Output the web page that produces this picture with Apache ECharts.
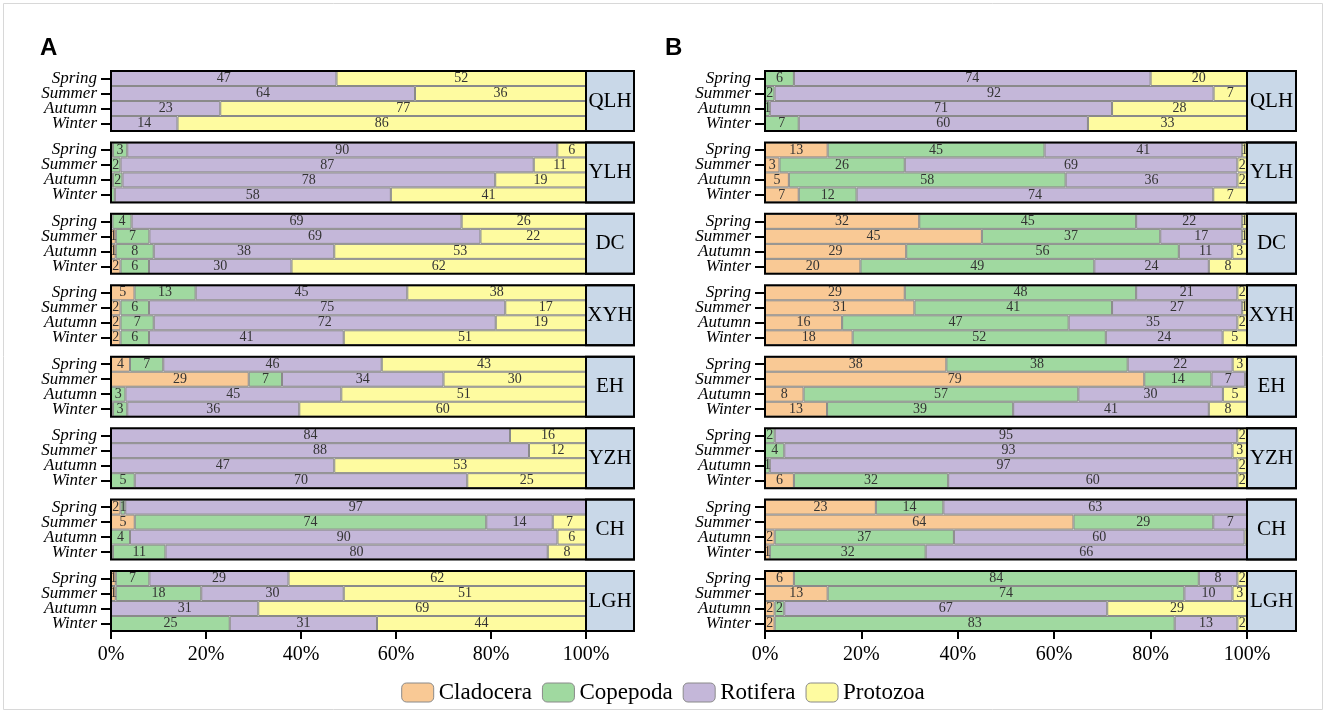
<!DOCTYPE html>
<html><head><meta charset="utf-8">
<script src="https://cdn.jsdelivr.net/npm/echarts@6/dist/echarts.min.js"></script>
<style>html,body{margin:0;padding:0;background:#fff}#c{width:1326px;height:713px}</style>
</head><body><div id="c"></div>
<script>
const seasons = ['Spring','Summer','Autumn','Winter'];
const taxa = ['Cladocera','Copepoda','Rotifera','Protozoa'];
const stations = ['QLH','YLH','DC','XYH','EH','YZH','CH','LGH'];
const xTickLabels = ['0%','20%','40%','60%','80%','100%'];
// each row: [Cladocera, Copepoda, Rotifera, Protozoa] for Spring, Summer, Autumn, Winter
const A_QLH = [[0,0,47,52],[0,0,64,36],[0,0,23,77],[0,0,14,86]];
const A_YLH = [[0.4,3,90,6],[0,2,87,11],[0.4,2,78,19],[0,0.8,58,41]];
const A_DC  = [[0.3,4,69,26],[1,7,69,22],[1,8,38,53],[2,6,30,62]];
const A_XYH = [[5,13,45,38],[2,6,75,17],[2,7,72,19],[2,6,41,51]];
const A_EH  = [[4,7,46,43],[29,7,34,30],[0,3,45,51],[0.4,3,36,60]];
const A_YZH = [[0,0,84,16],[0,0,88,12],[0,0,47,53],[0,5,70,25]];
const A_CH  = [[2,1,97,0],[5,74,14,7],[0,4,90,6],[0.4,11,80,8]];
const A_LGH = [[1,7,29,62],[1,18,30,51],[0,0,31,69],[0,25,31,44]];
const B_QLH = [[0,6,74,20],[0,2,92,7],[0,1,71,28],[0,7,60,33]];
const B_YLH = [[13,45,41,1],[3,26,69,2],[5,58,36,2],[7,12,74,7]];
const B_DC  = [[32,45,22,1],[45,37,17,1],[29,56,11,3],[20,49,24,8]];
const B_XYH = [[29,48,21,2],[31,41,27,1],[16,47,35,2],[18,52,24,5]];
const B_EH  = [[38,38,22,3],[79,14,7,0.4],[8,57,30,5],[13,39,41,8]];
const B_YZH = [[0,2,95,2],[0,4,93,3],[0,1,97,2],[6,32,60,2]];
const B_CH  = [[23,14,63,0],[64,29,7,0],[2,37,60,0.5],[1,32,66,0]];
const B_LGH = [[6,84,8,2],[13,74,10,3],[2,2,67,29],[2,83,13,2]];

const panels = [
  {letter:'A', rows:[A_QLH,A_YLH,A_DC,A_XYH,A_EH,A_YZH,A_CH,A_LGH], left:111, width:475, box:48, lx:40},
  {letter:'B', rows:[B_QLH,B_YLH,B_DC,B_XYH,B_EH,B_YZH,B_CH,B_LGH], left:765, width:482, box:49, lx:665}
];
const colors = ['#F9C995','#A0D9A0','#C4B7D9','#FEFBA0'];
const serif = '"Liberation Serif","Times New Roman",serif';
const top0 = 71, step = 71.43, gh = 60;

const grid=[], xAxis=[], yAxis=[], series=[], graphic=[];
let gi = 0;
panels.forEach(p => {
  graphic.push({type:'text', left:p.lx, top:36, z:100,
    style:{text:p.letter, font:'bold 24px "Liberation Sans", Arial, sans-serif', fill:'#000'}});
  p.rows.forEach((rows, si) => {
    const top = top0 + si*step;
    const last = si === stations.length-1;
    grid.push({left:p.left, top:top, width:p.width, height:gh});
    xAxis.push({gridIndex:gi, type:'value', min:0, max:100, interval:20, show:last,
      axisLine:{show:false}, splitLine:{show:false},
      axisTick:{show:true, length:8, lineStyle:{color:'#000', width:2}},
      axisLabel:{formatter: v => xTickLabels[v/20], fontFamily:serif, fontSize:20, color:'#000', margin:14}});
    yAxis.push({gridIndex:gi, type:'category', data:seasons, inverse:true,
      axisLine:{show:false}, splitLine:{show:false},
      axisTick:{show:true, alignWithLabel:true, interval:0, length:10, lineStyle:{color:'#000', width:2}},
      axisLabel:{interval:0, hideOverlap:false, fontFamily:serif, fontStyle:'italic', fontSize:17, color:'#000', margin:14, lineHeight:14}});
    taxa.forEach((t, ti) => {
      series.push({
        name:t, type:'bar', stack:'s'+gi, xAxisIndex:gi, yAxisIndex:gi,
        barCategoryGap:'0%', color:colors[ti],
        itemStyle:{color:colors[ti], borderColor:'#8a8a8a', borderWidth:1},
        label:{show:true, position:'inside', fontFamily:serif, fontSize:14, color:'#333',
          formatter: pr => (pr.data.raw >= 1 ? String(pr.data.raw) : '')},
        emphasis:{disabled:true},
        data: rows.map(r => {
          const sum = r[0]+r[1]+r[2]+r[3];
          return r[ti] === 0 ? {value:null, raw:0} : {value: r[ti]/sum*100, raw:r[ti]};
        })
      });
    });
    graphic.push({type:'rect', z:100, shape:{x:p.left+p.width, y:top, width:p.box, height:gh},
      style:{fill:'#C9D8E8', stroke:'#000', lineWidth:2}});
    graphic.push({type:'text', z:101, x:p.left+p.width+p.box/2, y:top+gh/2,
      style:{text:stations[si], font:'21px '+serif, fill:'#000', align:'center', verticalAlign:'middle'}});
    graphic.push({type:'rect', z:100, shape:{x:p.left, y:top, width:p.width+p.box, height:gh},
      style:{fill:'none', stroke:'#000', lineWidth:2}});
    gi++;
  });
});
graphic.push({type:'rect', z:0, shape:{x:3.5, y:3.5, width:1319, height:706}, style:{fill:'none', stroke:'#d8d8d8', lineWidth:1}});

const chart = echarts.init(document.getElementById('c'), null, {renderer:'canvas'});
chart.setOption({
  animation:false,
  backgroundColor:'#fff',
  legend:{data:taxa, bottom:4, left:'center', itemWidth:32, itemHeight:19, itemGap:10,
    textStyle:{fontFamily:serif, fontSize:23, color:'#000'},
    itemStyle:{borderColor:'#8a8a8a', borderWidth:1}},
  grid, xAxis, yAxis, series, graphic
});
</script></body></html>
